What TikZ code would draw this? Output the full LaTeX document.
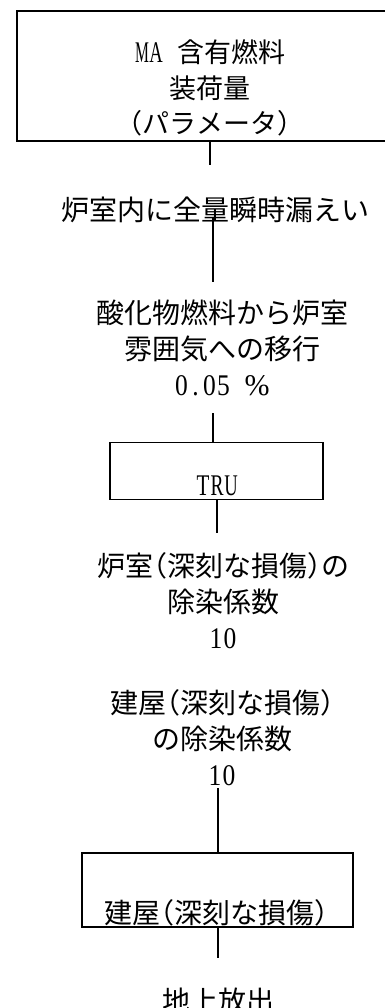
\documentclass[tikz,border=0pt]{standalone}
\usepackage{fontspec}
\setmainfont{Liberation Serif}
\newfontfamily\jp{Noto Sans CJK JP}
\newcommand\jlp{\makebox[.5em][r]{（}}
\newcommand\jrp{\makebox[.5em][l]{）}}
% half-width serif Latin characters
\newcommand\hl[2][0.62]{\makebox[14pt]{\rmfamily\fontsize{30}{36}\selectfont\scalebox{#1}[1]{#2}}}
\newcommand\hs{\makebox[14pt]{}}
\begin{document}
\begin{tikzpicture}[x=1pt,y=-1pt,line width=1.2pt,
  txt/.style={font=\jp\fontsize{28}{36}\selectfont, align=center, inner sep=0pt},
  frame/.style={draw, line width=1.5pt, inner sep=0pt}]
\useasboundingbox (0,0) rectangle (385,1008);
% boxes
\node[frame, minimum width=375pt, minimum height=130pt] (b1) at (204.5,76) {};
\node[frame, minimum width=213pt, minimum height=57pt] (b2) at (216.5,471) {};
\node[frame, minimum width=271pt, minimum height=74pt] (b3) at (217.5,890) {};
% texts
\node[txt, font=\jp\fontsize{27}{35.5}\selectfont] (n1) at (210,88) {\hl[0.52]{M}\hl{A}\hs 含有燃料\\装荷量\\\jlp パラメータ\jrp};
\node[txt] (t1) at (215,210) {炉室内に全量瞬時漏えい};
\node[txt] (t2) at (222,348) {酸化物燃料から炉室\\雰囲気への移行\\\hl[0.85]{0}\hl[0.85]{.}\hl[0.85]{0}\hl[0.85]{5}\hs{\rmfamily\fontsize{30}{36}\selectfont\%}};
\node[txt] (tru) at (217,486) {\hl[0.7]{T}\hl[0.65]{R}\hl[0.62]{U}};
\node[txt] (t3) at (223,601) {炉室\jlp 深刻な損傷\jrp の\\除染係数\\\hl[0.85]{1}\hl[0.85]{0}};
\node[txt] (t4) at (222,738) {建屋\jlp 深刻な損傷\jrp\\の除染係数\\\hl[0.85]{1}\hl[0.85]{0}};
\node[txt] (t5) at (216,913) {建屋\jlp 深刻な損傷\jrp};
\node[txt] (t6) at (218,1001) {地上放出};
% connector ends
\coordinate (c1) at (210,165);
\coordinate (c2a) at (213,217);
\coordinate (c2b) at (213,282);
\coordinate (c3) at (213,413);
\coordinate (c4) at (217,533);
\coordinate (c5) at (218,788);
\coordinate (c6) at (218,958);
% connectors
\draw (b1.south -| c1) -- (c1);
\draw (c2a) -- (c2b);
\draw (c3) -- (b2.north -| c3);
\draw (b2.south -| c4) -- (c4);
\draw (c5) -- (b3.north -| c5);
\draw (b3.south -| c6) -- (c6);
\end{tikzpicture}
\end{document}
